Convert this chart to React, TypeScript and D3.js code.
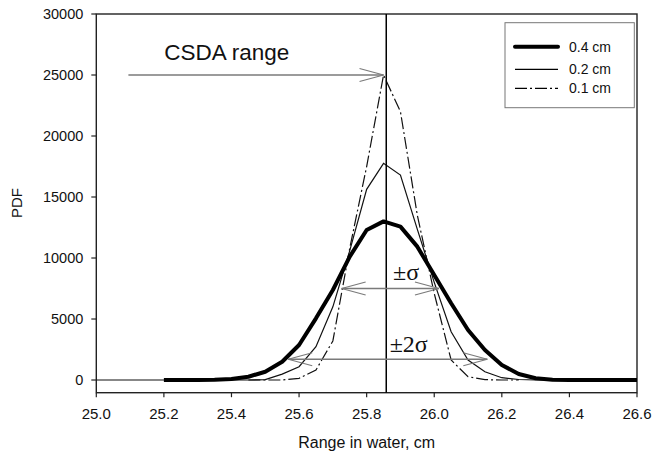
import React from "react";
import * as d3 from "d3";

// Range positions (cm)
const xFull = [25.0, 25.05, 25.1, 25.15, 25.2, 25.25, 25.3, 25.35, 25.4, 25.45, 25.5, 25.55, 25.6, 25.65, 25.7, 25.75, 25.8, 25.85, 25.9, 25.95, 26.0, 26.05, 26.1, 26.15, 26.2, 26.25, 26.3, 26.35, 26.4, 26.45, 26.5, 26.55, 26.6];
const xThick = [25.2, 25.25, 25.3, 25.35, 25.4, 25.45, 25.5, 25.55, 25.6, 25.65, 25.7, 25.75, 25.8, 25.85, 25.9, 25.95, 26.0, 26.05, 26.1, 26.15, 26.2, 26.25, 26.3, 26.35, 26.4, 26.45, 26.5, 26.55, 26.6];
const xDash = [25.45, 25.5, 25.55, 25.6, 25.65, 25.7, 25.75, 25.8, 25.85, 25.9, 25.95, 26.0, 26.05, 26.1, 26.15, 26.2, 26.25];

// PDF values
const pdf04 = [0, 0, 5, 20, 80, 270, 680, 1500, 2870, 5055, 7380, 10110, 12295, 13000, 12570, 10930, 8600, 6290, 4100, 2460, 1230, 490, 140, 30, 0, 0, 0, 0, 0];
const pdf02 = [0, 0, 0, 0, 0, 0, 0, 0, 0, 0, 30, 480, 1090, 2730, 6000, 10600, 15630, 17760, 16800, 12350, 8000, 3960, 1640, 680, 190, 40, 0, 0, 0, 0, 0, 0, 0];
const pdf01 = [0, 0, 0, 140, 820, 3200, 10800, 17500, 25000, 22000, 13500, 7100, 1640, 270, 30, 0, 0];

const xTicks = [25.0, 25.2, 25.4, 25.6, 25.8, 26.0, 26.2, 26.4, 26.6];
const yTicks = [0, 5000, 10000, 15000, 20000, 25000, 30000];

const legendLabels = ["0.4 cm", "0.2 cm", "0.1 cm"];

const csdaRange = 25.858;
const csdaArrow = { x0: 25.095, x1: 25.85, y: 25000 };
const sigmaArrow = { x0: 25.726, x1: 26.014, y: 7500 };
const sigma2Arrow = { x0: 25.568, x1: 26.157, y: 1700 };

const W = 652;
const H = 454;
const left = 96.3;
const right = 637;
const top = 14;
const bottom = 392.7;

const sans = "'Liberation Sans', Arial, sans-serif";
const serif = "'Liberation Serif', 'Times New Roman', serif";

export default function App() {
  const x = d3.scaleLinear().domain([25.0, 26.6]).range([left, right]);
  const y = d3.scaleLinear().domain([-1040, 30000]).range([bottom, top]);

  const line = d3
    .line<[number, number]>()
    .x((d) => x(d[0]))
    .y((d) => y(d[1]));

  const s04 = xThick.map((v, i) => [v, pdf04[i]] as [number, number]);
  const s02 = xFull.map((v, i) => [v, pdf02[i]] as [number, number]);
  const s01 = xDash.map((v, i) => [v, pdf01[i]] as [number, number]);

  const gray = "#7a7a7a";
  const headLen = 24;
  const headSpread = 6.5;

  const arrowHead = (tx: number, ty: number, dir: number, key: string) => (
    <g key={key}>
      <line x1={tx} y1={ty} x2={tx - dir * headLen} y2={ty - headSpread} stroke={gray} strokeWidth={1.2} />
      <line x1={tx} y1={ty} x2={tx - dir * headLen} y2={ty + headSpread} stroke={gray} strokeWidth={1.2} />
    </g>
  );

  const dashPattern = "12,3,2,3";

  const legendX0 = 515;
  const legendX1 = 558;
  const legendYs = [46.7, 69.3, 88.3];
  const legendStyles = [
    { w: 4, dash: undefined as string | undefined },
    { w: 1.2, dash: undefined as string | undefined },
    { w: 1.2, dash: dashPattern },
  ];

  return (
    <svg
      width={W}
      height={H}
      style={{ position: "absolute", left: 0, top: 0, background: "#fff" }}
      xmlns="http://www.w3.org/2000/svg"
    >
      <rect x={0} y={0} width={W} height={H} fill="#fff" />

      {/* frame */}
      <rect x={left} y={top} width={right - left} height={bottom - top} fill="none" stroke="#222" strokeWidth={1.4} />

      {/* y ticks */}
      {yTicks.map((t) => (
        <g key={"y" + t}>
          <line x1={left - 5} x2={left} y1={y(t)} y2={y(t)} stroke="#222" strokeWidth={1.2} />
          <text x={left - 13} y={y(t) + 5} textAnchor="end" fontFamily={sans} fontSize={14.5} fill="#111">
            {t}
          </text>
        </g>
      ))}

      {/* x ticks */}
      {xTicks.map((t) => (
        <g key={"x" + t}>
          <line x1={x(t)} x2={x(t)} y1={bottom} y2={bottom + 4.5} stroke="#222" strokeWidth={1.2} />
          <text x={x(t)} y={418.5} textAnchor="middle" fontFamily={sans} fontSize={15} fill="#111">
            {t.toFixed(1)}
          </text>
        </g>
      ))}

      {/* axis titles */}
      <text x={(left + right) / 2} y={448} textAnchor="middle" fontFamily={sans} fontSize={16} fill="#111">
        Range in water, cm
      </text>
      <text
        transform={`translate(22, 203) rotate(-90)`}
        textAnchor="middle"
        fontFamily={sans}
        fontSize={15}
        fill="#111"
      >
        PDF
      </text>

      {/* curves */}
      <path d={line(s01) || ""} fill="none" stroke="#111" strokeWidth={1.2} strokeDasharray={dashPattern} />
      <path d={line(s02) || ""} fill="none" stroke="#111" strokeWidth={1.2} />
      <path d={line(s04) || ""} fill="none" stroke="#000" strokeWidth={4} strokeLinejoin="round" />

      {/* CSDA vertical line */}
      <line x1={x(csdaRange)} x2={x(csdaRange)} y1={top} y2={bottom} stroke="#000" strokeWidth={1.5} />

      {/* CSDA arrow */}
      <line x1={x(csdaArrow.x0)} x2={x(csdaArrow.x1)} y1={y(csdaArrow.y)} y2={y(csdaArrow.y)} stroke={gray} strokeWidth={1.3} />
      {arrowHead(x(csdaArrow.x1), y(csdaArrow.y), 1, "csda")}
      <text x={x(25.201)} y={y(26230)} fontFamily={sans} fontSize={22.5} fill="#111">
        CSDA range
      </text>

      {/* sigma arrow */}
      <line x1={x(sigmaArrow.x0)} x2={x(sigmaArrow.x1)} y1={y(sigmaArrow.y)} y2={y(sigmaArrow.y)} stroke={gray} strokeWidth={1.3} />
      {arrowHead(x(sigmaArrow.x0), y(sigmaArrow.y), -1, "s1l")}
      {arrowHead(x(sigmaArrow.x1), y(sigmaArrow.y), 1, "s1r")}
      <text x={x(25.878)} y={y(8200)} fontFamily={serif} fontSize={24} fill="#111">
        ±σ
      </text>

      {/* 2 sigma arrow */}
      <line x1={x(sigma2Arrow.x0)} x2={x(sigma2Arrow.x1)} y1={y(sigma2Arrow.y)} y2={y(sigma2Arrow.y)} stroke={gray} strokeWidth={1.3} />
      {arrowHead(x(sigma2Arrow.x0), y(sigma2Arrow.y), -1, "s2l")}
      {arrowHead(x(sigma2Arrow.x1), y(sigma2Arrow.y), 1, "s2r")}
      <text x={x(25.868)} y={y(2320)} fontFamily={serif} fontSize={24} fill="#111">
        ±2σ
      </text>

      {/* legend */}
      <rect x={505} y={22.7} width={129.3} height={85} fill="#fff" stroke="#777" strokeWidth={1} />
      {legendLabels.map((lab, i) => (
        <g key={lab}>
          <line
            x1={legendX0}
            x2={legendX1}
            y1={legendYs[i]}
            y2={legendYs[i]}
            stroke="#000"
            strokeWidth={legendStyles[i].w}
            strokeDasharray={legendStyles[i].dash}
            strokeLinecap={i === 0 ? "round" : "butt"}
          />
          <text x={569} y={legendYs[i] + 5} fontFamily={sans} fontSize={14} fill="#111">
            {lab}
          </text>
        </g>
      ))}
    </svg>
  );
}
